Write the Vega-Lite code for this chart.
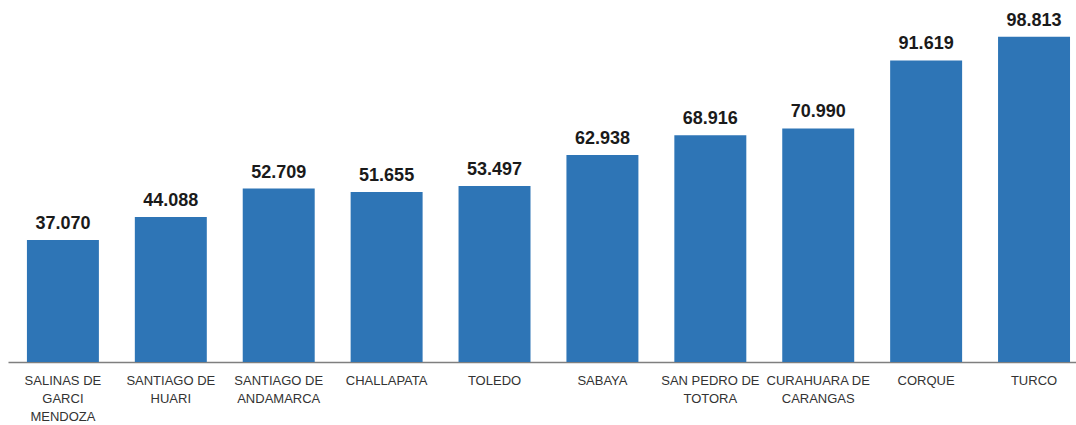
{
  "$schema": "https://vega.github.io/schema/vega-lite/v6.json",
  "width": 1068,
  "height": 362,
  "padding": {"left": 8, "top": 0, "right": 0, "bottom": 63},
  "autosize": {"type": "none"},
  "background": "white",
  "config": {
    "view": {"stroke": null},
    "locale": {"number": {"decimal": ",", "thousands": ".", "grouping": [3], "currency": ["", ""]}}
  },
  "data": {
    "values": [
      {"municipio": "SALINAS DE|GARCI|MENDOZA", "poblacion": 37070},
      {"municipio": "SANTIAGO DE|HUARI", "poblacion": 44088},
      {"municipio": "SANTIAGO DE|ANDAMARCA", "poblacion": 52709},
      {"municipio": "CHALLAPATA", "poblacion": 51655},
      {"municipio": "TOLEDO", "poblacion": 53497},
      {"municipio": "SABAYA", "poblacion": 62938},
      {"municipio": "SAN PEDRO DE|TOTORA", "poblacion": 68916},
      {"municipio": "CURAHUARA DE|CARANGAS", "poblacion": 70990},
      {"municipio": "CORQUE", "poblacion": 91619},
      {"municipio": "TURCO", "poblacion": 98813}
    ]
  },
  "encoding": {
    "x": {
      "field": "municipio",
      "type": "nominal",
      "sort": null,
      "scale": {"paddingInner": 0.333, "paddingOuter": 0.1154, "align": 0.76},
      "axis": {
        "title": null,
        "labelAngle": 0,
        "labelExpr": "split(datum.label, '|')",
        "labelFont": "Liberation Sans",
        "labelFontSize": 13,
        "labelColor": "#333333",
        "labelLineHeight": 18,
        "labelPadding": 12,
        "ticks": false,
        "domainColor": "#7f7f7f",
        "domainWidth": 1.5,
        "labelLimit": 200
      }
    },
    "y": {
      "field": "poblacion",
      "type": "quantitative",
      "scale": {"domain": [0, 110000]},
      "axis": null
    }
  },
  "layer": [
    {"mark": {"type": "bar", "color": "#2E75B6"}},
    {
      "mark": {"type": "text", "baseline": "alphabetic", "dy": -11, "font": "Liberation Sans", "fontWeight": "bold", "fontSize": 18, "color": "#1a1a1a"},
      "encoding": {"text": {"field": "poblacion", "type": "quantitative", "format": ",d"}}
    }
  ]
}
